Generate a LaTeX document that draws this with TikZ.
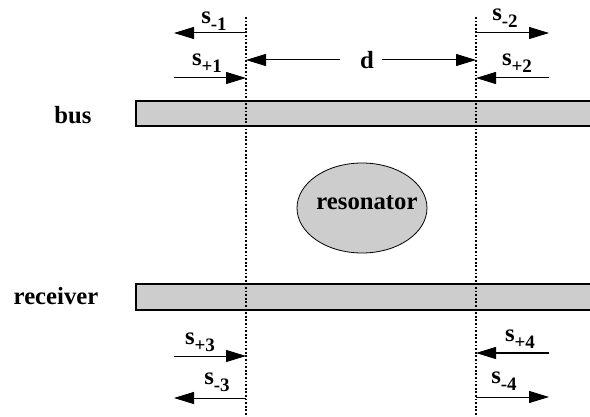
\documentclass[tikz,border=0pt]{standalone}
\usepackage{fontspec}
\setmainfont{Liberation Serif}
\usepackage{xcolor}
\usetikzlibrary{arrows.meta,shapes.geometric,positioning}
\definecolor{guidegray}{RGB}{205,205,205}
\newcommand{\portsig}[1]{\textbf{s}\raisebox{-0.3em}{\fontsize{19}{19}\selectfont\bfseries #1}}
\tikzset{
  % Waveguide bars and ring
  wguide/.style={draw=black, line width=1.3pt, fill=guidegray},
  % Reference planes
  refline/.style={line width=1.2pt, dash pattern=on 1.8pt off 1.8pt},
  % Arrows
  arr/.style={-{Triangle[length=20pt,width=12pt]}, line width=1pt},
  % Labels
  lbl/.style={font=\fontsize{24.7}{28}\selectfont\bfseries, inner sep=0pt},
}

\begin{document}
\begin{tikzpicture}[x=1pt,y=-1pt]
  \useasboundingbox (0,0) rectangle (590,417);

    %% ── Waveguides ─────────────────────────────────────────
    \draw[wguide] (136,101) rectangle (593,126);
    \draw[wguide] (136,284) rectangle (593,310);
    \node[lbl] (bus) at (73,115) {bus};
    \node[lbl] (rcv) at (56,296) {receiver};

    %% ── Resonator ──────────────────────────────────────────
    \node[wguide, ellipse, line width=0.8pt, inner sep=0pt,
          minimum width=130pt, minimum height=90pt] (res) at (362,208) {};
    \node[lbl] (restxt) at (367,203) {resonator};

    %% ── Reference planes ───────────────────────────────────
    \coordinate (Ltop) at (246,17);  \coordinate (Lbot) at (246,417);
    \coordinate (Rtop) at (476,17);  \coordinate (Rbot) at (476,417);
    \draw[refline] (Ltop) -- (Lbot);
    \draw[refline] (Rtop) -- (Rbot);

    %% ── Port arrows ────────────────────────────────────────
    \foreach \n/\y in {a/33,b/78,c/356,e/398}{
      \coordinate (Lo\n) at (174,\y);
      \coordinate (Li\n) at (246,\y);
    }
    \foreach \n/\y in {a/33,b/78,c/353,e/397}{
      \coordinate (Ri\n) at (476,\y);
      \coordinate (Ro\n) at (549,\y);
    }
    \draw[arr] (Lia) -- (Loa);
    \draw[arr] (Lob) -- (Lib);
    \draw[arr] (Loc) -- (Lic);
    \draw[arr] (Lie) -- (Loe);
    \draw[arr] (Ria) -- (Roa);
    \draw[arr] (Rob) -- (Rib);
    \draw[arr] (Roc) -- (Ric);
    \draw[arr] (Rie) -- (Roe);

    \node[lbl] (sm1) at (214,21)  {\portsig{-1}};
    \node[lbl] (sp1) at (207,63)  {\portsig{+1}};
    \node[lbl] (sm2) at (505,18)  {\portsig{-2}};
    \node[lbl] (sp2) at (517,63)  {\portsig{+2}};
    \node[lbl] (sp3) at (200,342) {\portsig{+3}};
    \node[lbl] (sm3) at (217,382) {\portsig{-3}};
    \node[lbl] (sp4) at (520,339) {\portsig{+4}};
    \node[lbl] (sm4) at (504,381) {\portsig{-4}};

    %% ── Spacing d ──────────────────────────────────────────
    \node[lbl] (d) at (367,60) {d};
    \coordinate (dl) at (340,60);  \coordinate (dlend) at (246,60);
    \coordinate (dr) at (382,60);  \coordinate (drend) at (476,60);
    \draw[arr] (dl) -- (dlend);
    \draw[arr] (dr) -- (drend);

  \end{tikzpicture}
\end{document}
